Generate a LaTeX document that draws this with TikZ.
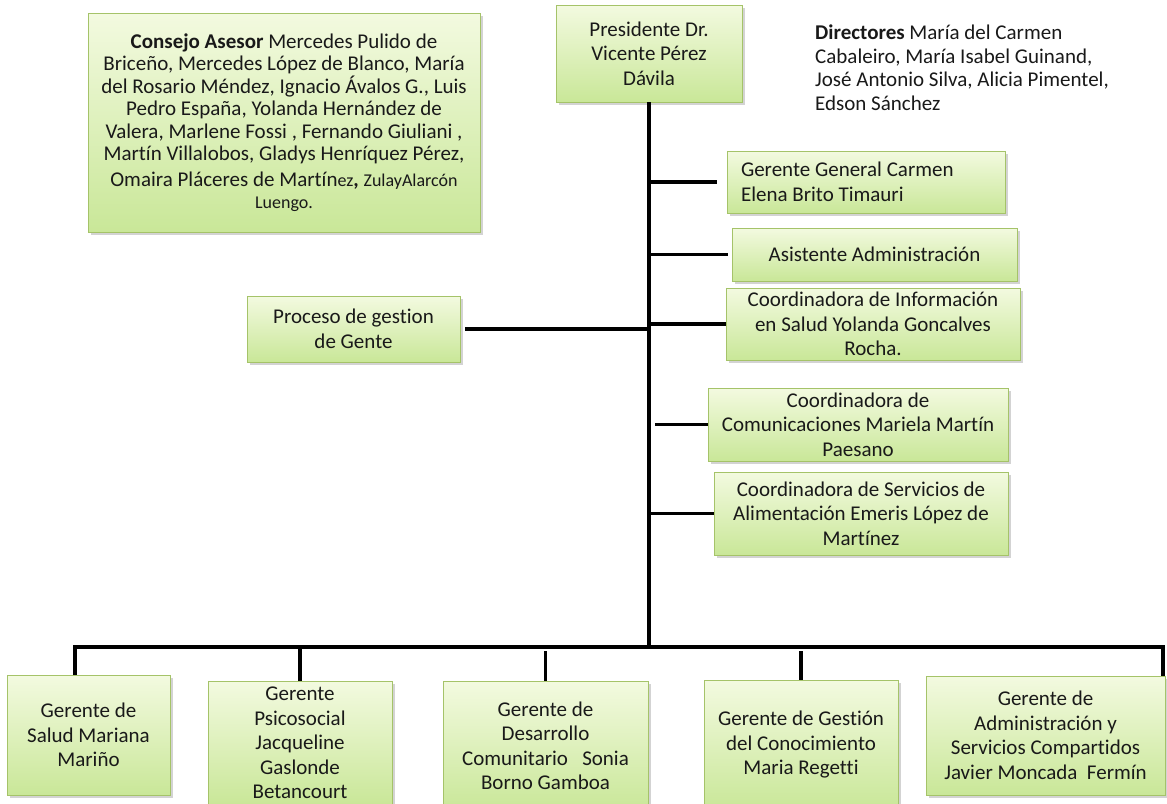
\documentclass[tikz,border=0pt]{standalone}
\usepackage{fontspec}
\setmainfont{Carlito}[Ligatures=NoCommon]
\usetikzlibrary{shadows}
\definecolor{boxtop}{RGB}{243,250,224}
\definecolor{boxbot}{RGB}{201,231,152}
\definecolor{boxline}{RGB}{165,195,105}
\definecolor{txt}{RGB}{25,25,25}
\newcommand\smtxt{\fontsize{18}{20}\selectfont}
\tikzset{
  orgbox/.style={draw=boxline, line width=0.8pt, top color=boxtop, bottom color=boxbot,
    drop shadow={shadow xshift=2.5pt, shadow yshift=-2.5pt, opacity=0.35},
    font=\fontsize{21}{24.5}\selectfont, align=center, inner sep=0pt, text=txt},
  plaintext/.style={font=\fontsize{21}{23.5}\selectfont, align=left, inner sep=0pt, text=txt},
  link/.style={line width=3.5pt, black},
}
\begin{document}
\begin{tikzpicture}[x=1pt, y=-1pt]
\useasboundingbox (0,0) rectangle (1167,803);
\clip (0,0) rectangle (1167,803);

% top boxes
\node[orgbox, minimum width=392pt, minimum height=219pt, font=\fontsize{21}{22.5}\selectfont] (cons) at (284,122.5)
 {\textbf{Consejo Asesor} Mercedes Pulido de\\Briceño, Mercedes López de Blanco, María\\del Rosario Méndez, Ignacio Ávalos G., Luis\\Pedro España, Yolanda Hernández de\\Valera, Marlene Fossi , Fernando Giuliani ,\\Martín Villalobos, Gladys Henríquez Pérez,\\[3pt]Omaira Pláceres de Martín{\smtxt ez}\textbf{,} {\smtxt ZulayAlarcón}\\{\smtxt Luengo.}};

\node[orgbox, minimum width=186pt, minimum height=97pt] (pres) at (649,53.5)
 {Presidente Dr.\\Vicente Pérez\\Dávila};

\node[plaintext, anchor=north west] (dir) at (815,25)
 {\textbf{Directores} María del Carmen\\Cabaleiro, María Isabel Guinand,\\José Antonio Silva, Alicia Pimentel,\\Edson Sánchez};

\node[orgbox, minimum height=62pt, text width=250pt, inner xsep=14pt, align=flush left] (gg) at (866,182)
 {Gerente General Carmen\\Elena Brito Timauri};

\node[orgbox, minimum width=285pt, minimum height=53pt] (asis) at (874.5,254.5)
 {Asistente Administración};

\node[orgbox, minimum width=294pt, minimum height=72pt] (ci) at (873,324)
 {Coordinadora de Información\\en Salud Yolanda Goncalves\\Rocha.};

\node[orgbox, minimum width=213pt, minimum height=66pt] (proc) at (353.5,329)
 {Proceso de gestion\\de Gente};

\node[orgbox, minimum width=300pt, minimum height=73pt] (com) at (858,424.5)
 {Coordinadora de\\Comunicaciones Mariela Martín\\Paesano};

\node[orgbox, minimum width=294pt, minimum height=83pt] (serv) at (861,513.5)
 {Coordinadora de Servicios de\\Alimentación Emeris López de\\Martínez};

% bottom boxes
\node[orgbox, minimum width=163pt, minimum height=120pt] (b1) at (88.5,735)
 {Gerente de\\Salud Mariana\\Mariño};
\node[orgbox, minimum width=184pt, minimum height=124pt] (b2) at (300,743)
 {Gerente\\Psicosocial\\Jacqueline\\Gaslonde\\Betancourt};
\node[orgbox, minimum width=205pt, minimum height=130pt] (b3) at (545.5,746)
 {Gerente de\\Desarrollo\\Comunitario\ \ \ Sonia\\Borno Gamboa};
\node[orgbox, minimum width=194pt, minimum height=130pt] (b4) at (801,745)
 {Gerente de Gestión\\del Conocimiento\\Maria Regetti};
\node[orgbox, minimum width=239pt, minimum height=119pt] (b5) at (1045.5,735.5)
 {Gerente de\\Administración y\\Servicios Compartidos\\Javier Moncada\ \ Fermín};

% connectors
\coordinate (busL) at (75,647);
\coordinate (busR) at (1163,647);
\draw[link] (pres.south) -- (pres.south |- busL);
\draw[link, shorten >=10pt] (gg.west -| pres.south) -- (gg.west);
\draw[link, shorten >=4pt] (asis.west -| pres.south) -- (asis.west);
\draw[link] (ci.west -| pres.south) -- (ci.west);
\draw[link, shorten <=5pt] (proc.east) -- (proc.east -| pres.south);
\draw[link, shorten <=6pt] (com.west -| pres.south) -- (com.west);
\draw[link] (serv.west -| pres.south) -- (serv.west);
\draw[link] (busL |- b1.north) -- (busL) -- (busR) -- (busR |- b5.north);
\draw[link] (b2.north) -- (b2.north |- busL);
\draw[link, shorten >=4pt] (b3.north) -- (b3.north |- busL);
\draw[link, shorten >=4pt] (b4.north) -- (b4.north |- busL);
\end{tikzpicture}
\end{document}
